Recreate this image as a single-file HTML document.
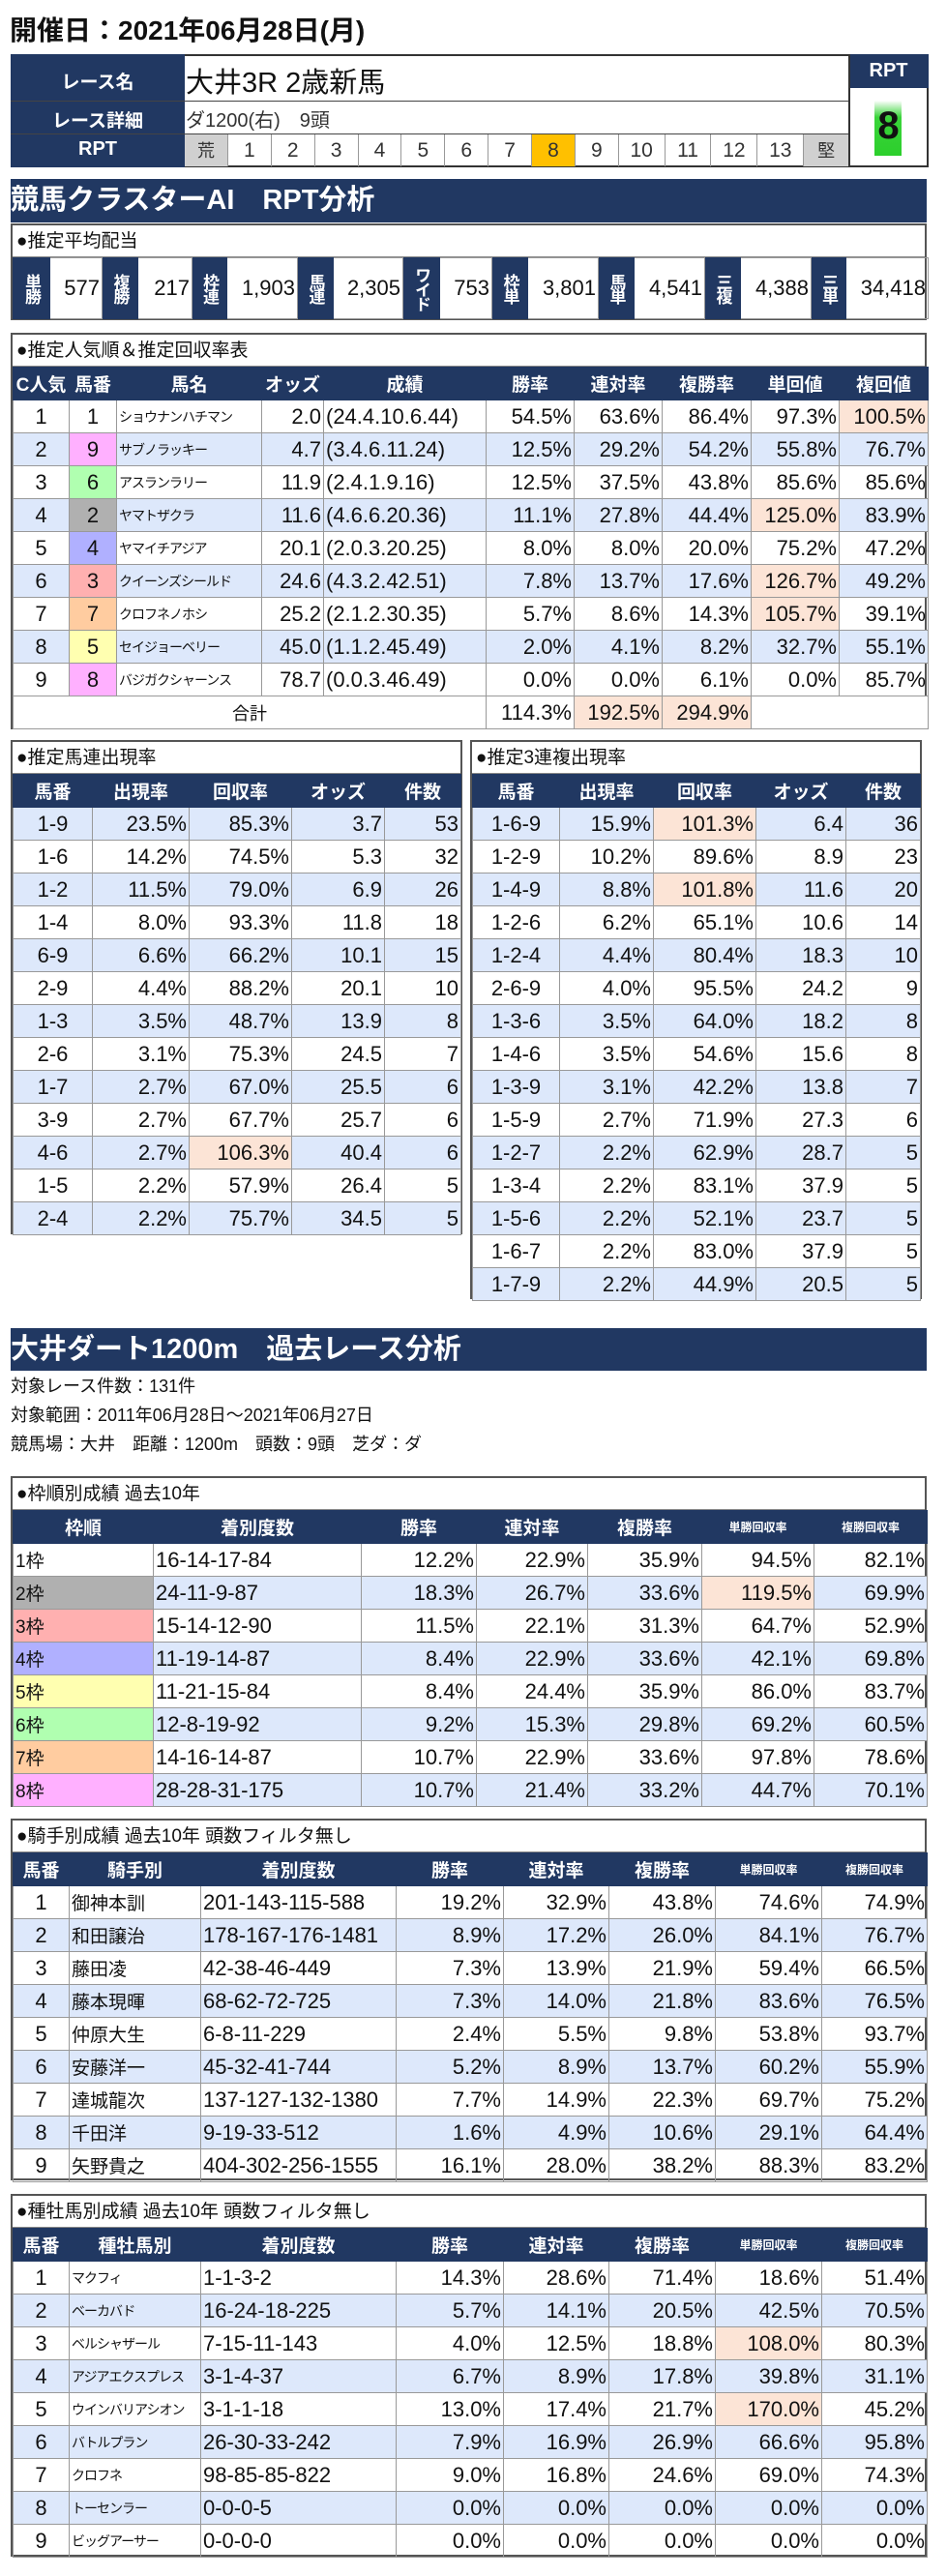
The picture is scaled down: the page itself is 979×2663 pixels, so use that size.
<!DOCTYPE html>
<html><head><meta charset="utf-8">
<style>
*{margin:0;padding:0;box-sizing:border-box}
body{width:979px;height:2663px;background:#fff;position:relative;font-family:"Liberation Sans Narrow","Liberation Sans","Noto Sans CJK JP",sans-serif;color:#111;overflow:hidden}
.a{position:absolute}
.box{position:absolute;left:11px;width:947px;border:2px solid #555;background:#fff}
.sub{height:33px;line-height:33px;font-size:19px;padding-left:4px;font-family:"Liberation Sans","Noto Sans CJK JP",sans-serif;border-bottom:1px solid #888}
table{border-collapse:collapse;table-layout:fixed;width:100%}
td,th{height:34px;border:1px solid #999;white-space:nowrap;overflow:hidden;font-size:22px;padding:0 2px}
td{text-align:right}
th{background:#213862;color:#fff;font-family:"Liberation Sans","Noto Sans CJK JP",sans-serif;font-size:19px;font-weight:bold;text-align:center;border-color:#213862}
th.s{font-size:12px}
.c{text-align:center}.l{text-align:left}
.b tr:nth-child(odd) td{background:#dde8fb}
.b2 tr:nth-child(even) td{background:#dde8fb}
td.pk{background:#fce4d6!important}
.nm{font-family:"Liberation Sans","Noto Sans CJK JP",sans-serif;font-size:14px;text-align:left;letter-spacing:-1px}
.jn{font-family:"Liberation Sans","Noto Sans CJK JP",sans-serif;font-size:19px;text-align:left}
.bar{position:absolute;left:11px;width:947px;background:#213862;color:#fff;font-family:"Liberation Sans","Noto Sans CJK JP",sans-serif;font-weight:bold}
.f1{background:#fff!important}.f2{background:#b0b0b0!important}.f3{background:#ffb0b0!important}.f4{background:#b0b0ff!important}.f5{background:#ffffb0!important}.f6{background:#b0ffb0!important}.f7{background:#ffcca0!important}.f8{background:#ffb0ff!important}
.v{writing-mode:vertical-rl;text-orientation:upright;font-size:17px;letter-spacing:-2px;padding:0;line-height:1}
</style></head><body>

<div class="a" style="left:10px;top:10px;font-size:28px;font-weight:bold;font-family:'Liberation Sans','Noto Sans CJK JP',sans-serif">開催日：2021年06月28日(月)</div>

<div class="a" style="left:11px;top:56px;width:949px;height:117px;border:2px solid #333;background:#fff"></div>
<div class="a" style="left:11px;top:56px;width:180px;height:117px;background:#213862"></div>
<div class="a" style="left:11px;top:70px;width:180px;text-align:center;color:#fff;font-weight:bold;font-size:19px;font-family:'Liberation Sans','Noto Sans CJK JP',sans-serif">レース名</div>
<div class="a" style="left:11px;top:110px;width:180px;text-align:center;color:#fff;font-weight:bold;font-size:19px;font-family:'Liberation Sans','Noto Sans CJK JP',sans-serif">レース詳細</div>
<div class="a" style="left:11px;top:143px;width:180px;text-align:center;color:#fff;font-weight:bold;font-size:20px">RPT</div>
<div class="a" style="left:11px;top:104px;width:866px;height:1px;background:#444"></div>
<div class="a" style="left:11px;top:138px;width:866px;height:1px;background:#444"></div>
<div class="a" style="left:192px;top:62px;font-size:29px;font-family:'Liberation Sans','Noto Sans CJK JP',sans-serif">大井3R 2歳新馬</div>
<div class="a" style="left:192px;top:108px;font-size:20px;color:#333;font-family:'Liberation Sans','Noto Sans CJK JP',sans-serif">ダ1200(右)　9頭</div>
<div class="a" style="left:191px;top:139px;width:686px;height:33px;display:flex;font-size:21px;color:#333">
<div style="width:45px;background:#d0d0d0;text-align:center;line-height:33px;border-right:1px solid #999;font-family:'Noto Sans CJK JP';font-size:18px">荒</div>
<div style="width:45px;text-align:center;line-height:33px;border-right:1px solid #999">1</div>
<div style="width:45px;text-align:center;line-height:33px;border-right:1px solid #999">2</div>
<div style="width:45px;text-align:center;line-height:33px;border-right:1px solid #999">3</div>
<div style="width:45px;text-align:center;line-height:33px;border-right:1px solid #999">4</div>
<div style="width:45px;text-align:center;line-height:33px;border-right:1px solid #999">5</div>
<div style="width:45px;text-align:center;line-height:33px;border-right:1px solid #999">6</div>
<div style="width:45px;text-align:center;line-height:33px;border-right:1px solid #999">7</div>
<div style="width:45px;background:#ffc000;text-align:center;line-height:33px;border-right:1px solid #999">8</div>
<div style="width:45px;text-align:center;line-height:33px;border-right:1px solid #999">9</div>
<div style="width:48px;text-align:center;line-height:33px;border-right:1px solid #999">10</div>
<div style="width:48px;text-align:center;line-height:33px;border-right:1px solid #999">11</div>
<div style="width:48px;text-align:center;line-height:33px;border-right:1px solid #999">12</div>
<div style="width:48px;text-align:center;line-height:33px;border-right:1px solid #999">13</div>
<div style="width:46px;background:#d0d0d0;text-align:center;line-height:33px;font-family:'Noto Sans CJK JP';font-size:18px">堅</div>
</div>
<div class="a" style="left:877px;top:56px;width:83px;height:35px;background:#213862;color:#fff;font-weight:bold;font-size:20px;text-align:center;line-height:35px">RPT</div>
<div class="a" style="left:877px;top:56px;width:2px;height:117px;background:#333"></div>
<div class="a" style="left:904px;top:104px;width:28px;height:57px;background:linear-gradient(#fff,#3ad43a 30%,#2ccf2c)"></div>
<div class="a" style="left:877px;top:108px;width:83px;text-align:center;font-size:40px;font-weight:bold;font-family:'Liberation Sans'">8</div>

<div class="bar" style="top:185px;height:45px;font-size:29px;line-height:45px">競馬クラスターAI　RPT分析</div>

<div class="box" style="top:231px;height:100px">
<div class="sub">●推定平均配当</div>
<table style="height:63px"><colgroup><col style="width:38px"><col style="width:54px"><col style="width:37px"><col style="width:56px"><col style="width:36px"><col style="width:73px"><col style="width:37px"><col style="width:72px"><col style="width:38px"><col style="width:54px"><col style="width:37px"><col style="width:73px"><col style="width:37px"><col style="width:73px"><col style="width:37px"><col style="width:73px"><col style="width:36px"><col style="width:85px"></colgroup>
<tr style="height:63px"><th class="v">単勝</th><td>577</td><th class="v">複勝</th><td>217</td><th class="v">枠連</th><td>1,903</td><th class="v">馬連</th><td>2,305</td><th class="v">ワイド</th><td>753</td><th class="v">枠単</th><td>3,801</td><th class="v">馬単</th><td>4,541</td><th class="v">三複</th><td>4,388</td><th class="v">三単</th><td>34,418</td></tr></table>
</div>

<div class="box" style="top:344px;height:410px">
<div class="sub">●推定人気順＆推定回収率表</div>
<table class="b"><colgroup><col style="width:58px"><col style="width:49px"><col style="width:150px"><col style="width:64px"><col style="width:168px"><col style="width:91px"><col style="width:91px"><col style="width:92px"><col style="width:91px"><col style="width:92px"></colgroup>
<tr><th>C人気</th><th>馬番</th><th>馬名</th><th>オッズ</th><th>成績</th><th>勝率</th><th>連対率</th><th>複勝率</th><th>単回値</th><th>複回値</th></tr>
<tr><td class="c">1</td><td class="c f1">1</td><td class="nm">ショウナンハチマン</td><td>2.0</td><td class="l">(24.4.10.6.44)</td><td>54.5%</td><td>63.6%</td><td>86.4%</td><td>97.3%</td><td class="pk">100.5%</td></tr>
<tr><td class="c">2</td><td class="c f8">9</td><td class="nm">サブノラッキー</td><td>4.7</td><td class="l">(3.4.6.11.24)</td><td>12.5%</td><td>29.2%</td><td>54.2%</td><td>55.8%</td><td>76.7%</td></tr>
<tr><td class="c">3</td><td class="c f6">6</td><td class="nm">アスランラリー</td><td>11.9</td><td class="l">(2.4.1.9.16)</td><td>12.5%</td><td>37.5%</td><td>43.8%</td><td>85.6%</td><td>85.6%</td></tr>
<tr><td class="c">4</td><td class="c f2">2</td><td class="nm">ヤマトザクラ</td><td>11.6</td><td class="l">(4.6.6.20.36)</td><td>11.1%</td><td>27.8%</td><td>44.4%</td><td class="pk">125.0%</td><td>83.9%</td></tr>
<tr><td class="c">5</td><td class="c f4">4</td><td class="nm">ヤマイチアジア</td><td>20.1</td><td class="l">(2.0.3.20.25)</td><td>8.0%</td><td>8.0%</td><td>20.0%</td><td>75.2%</td><td>47.2%</td></tr>
<tr><td class="c">6</td><td class="c f3">3</td><td class="nm">クイーンズシールド</td><td>24.6</td><td class="l">(4.3.2.42.51)</td><td>7.8%</td><td>13.7%</td><td>17.6%</td><td class="pk">126.7%</td><td>49.2%</td></tr>
<tr><td class="c">7</td><td class="c f7">7</td><td class="nm">クロフネノホシ</td><td>25.2</td><td class="l">(2.1.2.30.35)</td><td>5.7%</td><td>8.6%</td><td>14.3%</td><td class="pk">105.7%</td><td>39.1%</td></tr>
<tr><td class="c">8</td><td class="c f5">5</td><td class="nm">セイジョーベリー</td><td>45.0</td><td class="l">(1.1.2.45.49)</td><td>2.0%</td><td>4.1%</td><td>8.2%</td><td>32.7%</td><td>55.1%</td></tr>
<tr><td class="c">9</td><td class="c f8">8</td><td class="nm">バジガクシャーンス</td><td>78.7</td><td class="l">(0.0.3.46.49)</td><td>0.0%</td><td>0.0%</td><td>6.1%</td><td>0.0%</td><td>85.7%</td></tr>
<tr><td colspan="5" class="c" style="background:#fff!important;font-family:'Noto Sans CJK JP';font-size:18px">合計</td><td style="background:#fff!important">114.3%</td><td class="pk">192.5%</td><td class="pk">294.9%</td><td colspan="2" style="background:#fff!important"></td></tr>
</table></div>

<div class="box" style="top:765px;width:467px;height:511px">
<div class="sub">●推定馬連出現率</div>
<table class="b2"><colgroup><col style="width:82px"><col style="width:100px"><col style="width:106px"><col style="width:96px"><col style="width:79px"></colgroup>
<tr><th>馬番</th><th>出現率</th><th>回収率</th><th>オッズ</th><th>件数</th></tr>
<tr><td class="c">1-9</td><td>23.5%</td><td>85.3%</td><td>3.7</td><td>53</td></tr>
<tr><td class="c">1-6</td><td>14.2%</td><td>74.5%</td><td>5.3</td><td>32</td></tr>
<tr><td class="c">1-2</td><td>11.5%</td><td>79.0%</td><td>6.9</td><td>26</td></tr>
<tr><td class="c">1-4</td><td>8.0%</td><td>93.3%</td><td>11.8</td><td>18</td></tr>
<tr><td class="c">6-9</td><td>6.6%</td><td>66.2%</td><td>10.1</td><td>15</td></tr>
<tr><td class="c">2-9</td><td>4.4%</td><td>88.2%</td><td>20.1</td><td>10</td></tr>
<tr><td class="c">1-3</td><td>3.5%</td><td>48.7%</td><td>13.9</td><td>8</td></tr>
<tr><td class="c">2-6</td><td>3.1%</td><td>75.3%</td><td>24.5</td><td>7</td></tr>
<tr><td class="c">1-7</td><td>2.7%</td><td>67.0%</td><td>25.5</td><td>6</td></tr>
<tr><td class="c">3-9</td><td>2.7%</td><td>67.7%</td><td>25.7</td><td>6</td></tr>
<tr><td class="c">4-6</td><td>2.7%</td><td class="pk">106.3%</td><td>40.4</td><td>6</td></tr>
<tr><td class="c">1-5</td><td>2.2%</td><td>57.9%</td><td>26.4</td><td>5</td></tr>
<tr><td class="c">2-4</td><td>2.2%</td><td>75.7%</td><td>34.5</td><td>5</td></tr>
</table></div>

<div class="box" style="top:765px;left:486px;width:467px;height:578px">
<div class="sub">●推定3連複出現率</div>
<table class="b2"><colgroup><col style="width:90px"><col style="width:97px"><col style="width:106px"><col style="width:93px"><col style="width:77px"></colgroup>
<tr><th>馬番</th><th>出現率</th><th>回収率</th><th>オッズ</th><th>件数</th></tr>
<tr><td class="c">1-6-9</td><td>15.9%</td><td class="pk">101.3%</td><td>6.4</td><td>36</td></tr>
<tr><td class="c">1-2-9</td><td>10.2%</td><td>89.6%</td><td>8.9</td><td>23</td></tr>
<tr><td class="c">1-4-9</td><td>8.8%</td><td class="pk">101.8%</td><td>11.6</td><td>20</td></tr>
<tr><td class="c">1-2-6</td><td>6.2%</td><td>65.1%</td><td>10.6</td><td>14</td></tr>
<tr><td class="c">1-2-4</td><td>4.4%</td><td>80.4%</td><td>18.3</td><td>10</td></tr>
<tr><td class="c">2-6-9</td><td>4.0%</td><td>95.5%</td><td>24.2</td><td>9</td></tr>
<tr><td class="c">1-3-6</td><td>3.5%</td><td>64.0%</td><td>18.2</td><td>8</td></tr>
<tr><td class="c">1-4-6</td><td>3.5%</td><td>54.6%</td><td>15.6</td><td>8</td></tr>
<tr><td class="c">1-3-9</td><td>3.1%</td><td>42.2%</td><td>13.8</td><td>7</td></tr>
<tr><td class="c">1-5-9</td><td>2.7%</td><td>71.9%</td><td>27.3</td><td>6</td></tr>
<tr><td class="c">1-2-7</td><td>2.2%</td><td>62.9%</td><td>28.7</td><td>5</td></tr>
<tr><td class="c">1-3-4</td><td>2.2%</td><td>83.1%</td><td>37.9</td><td>5</td></tr>
<tr><td class="c">1-5-6</td><td>2.2%</td><td>52.1%</td><td>23.7</td><td>5</td></tr>
<tr><td class="c">1-6-7</td><td>2.2%</td><td>83.0%</td><td>37.9</td><td>5</td></tr>
<tr><td class="c">1-7-9</td><td>2.2%</td><td>44.9%</td><td>20.5</td><td>5</td></tr>
</table></div>

<div class="bar" style="top:1373px;height:44px;font-size:29px;line-height:44px">大井ダート1200m　過去レース分析</div>
<div class="a" style="left:11px;top:1418px;font-size:18px;line-height:30px;font-family:'Liberation Sans','Noto Sans CJK JP',sans-serif">対象レース件数：131件<br>対象範囲：2011年06月28日～2021年06月27日<br>競馬場：大井　距離：1200m　頭数：9頭　芝ダ：ダ</div>

<div class="box" style="top:1526px;height:342px">
<div class="sub">●枠順別成績 過去10年</div>
<table class="b"><colgroup><col style="width:145px"><col style="width:215px"><col style="width:119px"><col style="width:115px"><col style="width:118px"><col style="width:116px"><col style="width:117px"></colgroup>
<tr><th>枠順</th><th>着別度数</th><th>勝率</th><th>連対率</th><th>複勝率</th><th class="s">単勝回収率</th><th class="s">複勝回収率</th></tr>
<tr><td class="jn f1">1枠</td><td class="l">16-14-17-84</td><td>12.2%</td><td>22.9%</td><td>35.9%</td><td>94.5%</td><td>82.1%</td></tr>
<tr><td class="jn f2">2枠</td><td class="l">24-11-9-87</td><td>18.3%</td><td>26.7%</td><td>33.6%</td><td class="pk">119.5%</td><td>69.9%</td></tr>
<tr><td class="jn f3">3枠</td><td class="l">15-14-12-90</td><td>11.5%</td><td>22.1%</td><td>31.3%</td><td>64.7%</td><td>52.9%</td></tr>
<tr><td class="jn f4">4枠</td><td class="l">11-19-14-87</td><td>8.4%</td><td>22.9%</td><td>33.6%</td><td>42.1%</td><td>69.8%</td></tr>
<tr><td class="jn f5">5枠</td><td class="l">11-21-15-84</td><td>8.4%</td><td>24.4%</td><td>35.9%</td><td>86.0%</td><td>83.7%</td></tr>
<tr><td class="jn f6">6枠</td><td class="l">12-8-19-92</td><td>9.2%</td><td>15.3%</td><td>29.8%</td><td>69.2%</td><td>60.5%</td></tr>
<tr><td class="jn f7">7枠</td><td class="l">14-16-14-87</td><td>10.7%</td><td>22.9%</td><td>33.6%</td><td>97.8%</td><td>78.6%</td></tr>
<tr><td class="jn f8">8枠</td><td class="l">28-28-31-175</td><td>10.7%</td><td>21.4%</td><td>33.2%</td><td>44.7%</td><td>70.1%</td></tr>
</table></div>

<div class="box" style="top:1880px;height:374px">
<div class="sub">●騎手別成績 過去10年 頭数フィルタ無し</div>
<table class="b"><colgroup><col style="width:58px"><col style="width:136px"><col style="width:202px"><col style="width:111px"><col style="width:109px"><col style="width:110px"><col style="width:110px"><col style="width:109px"></colgroup>
<tr><th>馬番</th><th>騎手別</th><th>着別度数</th><th>勝率</th><th>連対率</th><th>複勝率</th><th class="s">単勝回収率</th><th class="s">複勝回収率</th></tr>
<tr><td class="c">1</td><td class="jn">御神本訓</td><td class="l">201-143-115-588</td><td>19.2%</td><td>32.9%</td><td>43.8%</td><td>74.6%</td><td>74.9%</td></tr>
<tr><td class="c">2</td><td class="jn">和田譲治</td><td class="l">178-167-176-1481</td><td>8.9%</td><td>17.2%</td><td>26.0%</td><td>84.1%</td><td>76.7%</td></tr>
<tr><td class="c">3</td><td class="jn">藤田凌</td><td class="l">42-38-46-449</td><td>7.3%</td><td>13.9%</td><td>21.9%</td><td>59.4%</td><td>66.5%</td></tr>
<tr><td class="c">4</td><td class="jn">藤本現暉</td><td class="l">68-62-72-725</td><td>7.3%</td><td>14.0%</td><td>21.8%</td><td>83.6%</td><td>76.5%</td></tr>
<tr><td class="c">5</td><td class="jn">仲原大生</td><td class="l">6-8-11-229</td><td>2.4%</td><td>5.5%</td><td>9.8%</td><td>53.8%</td><td>93.7%</td></tr>
<tr><td class="c">6</td><td class="jn">安藤洋一</td><td class="l">45-32-41-744</td><td>5.2%</td><td>8.9%</td><td>13.7%</td><td>60.2%</td><td>55.9%</td></tr>
<tr><td class="c">7</td><td class="jn">達城龍次</td><td class="l">137-127-132-1380</td><td>7.7%</td><td>14.9%</td><td>22.3%</td><td>69.7%</td><td>75.2%</td></tr>
<tr><td class="c">8</td><td class="jn">千田洋</td><td class="l">9-19-33-512</td><td>1.6%</td><td>4.9%</td><td>10.6%</td><td>29.1%</td><td>64.4%</td></tr>
<tr><td class="c">9</td><td class="jn">矢野貴之</td><td class="l">404-302-256-1555</td><td>16.1%</td><td>28.0%</td><td>38.2%</td><td>88.3%</td><td>83.2%</td></tr>
</table></div>

<div class="box" style="top:2268px;height:375px">
<div class="sub">●種牡馬別成績 過去10年 頭数フィルタ無し</div>
<table class="b"><colgroup><col style="width:58px"><col style="width:136px"><col style="width:202px"><col style="width:111px"><col style="width:109px"><col style="width:110px"><col style="width:110px"><col style="width:109px"></colgroup>
<tr><th>馬番</th><th>種牡馬別</th><th>着別度数</th><th>勝率</th><th>連対率</th><th>複勝率</th><th class="s">単勝回収率</th><th class="s">複勝回収率</th></tr>
<tr><td class="c">1</td><td class="nm">マクフィ</td><td class="l">1-1-3-2</td><td>14.3%</td><td>28.6%</td><td>71.4%</td><td>18.6%</td><td>51.4%</td></tr>
<tr><td class="c">2</td><td class="nm">ベーカバド</td><td class="l">16-24-18-225</td><td>5.7%</td><td>14.1%</td><td>20.5%</td><td>42.5%</td><td>70.5%</td></tr>
<tr><td class="c">3</td><td class="nm">ベルシャザール</td><td class="l">7-15-11-143</td><td>4.0%</td><td>12.5%</td><td>18.8%</td><td class="pk">108.0%</td><td>80.3%</td></tr>
<tr><td class="c">4</td><td class="nm">アジアエクスプレス</td><td class="l">3-1-4-37</td><td>6.7%</td><td>8.9%</td><td>17.8%</td><td>39.8%</td><td>31.1%</td></tr>
<tr><td class="c">5</td><td class="nm">ウインバリアシオン</td><td class="l">3-1-1-18</td><td>13.0%</td><td>17.4%</td><td>21.7%</td><td class="pk">170.0%</td><td>45.2%</td></tr>
<tr><td class="c">6</td><td class="nm">バトルプラン</td><td class="l">26-30-33-242</td><td>7.9%</td><td>16.9%</td><td>26.9%</td><td>66.6%</td><td>95.8%</td></tr>
<tr><td class="c">7</td><td class="nm">クロフネ</td><td class="l">98-85-85-822</td><td>9.0%</td><td>16.8%</td><td>24.6%</td><td>69.0%</td><td>74.3%</td></tr>
<tr><td class="c">8</td><td class="nm">トーセンラー</td><td class="l">0-0-0-5</td><td>0.0%</td><td>0.0%</td><td>0.0%</td><td>0.0%</td><td>0.0%</td></tr>
<tr><td class="c">9</td><td class="nm">ビッグアーサー</td><td class="l">0-0-0-0</td><td>0.0%</td><td>0.0%</td><td>0.0%</td><td>0.0%</td><td>0.0%</td></tr>
</table></div>

</body></html>
